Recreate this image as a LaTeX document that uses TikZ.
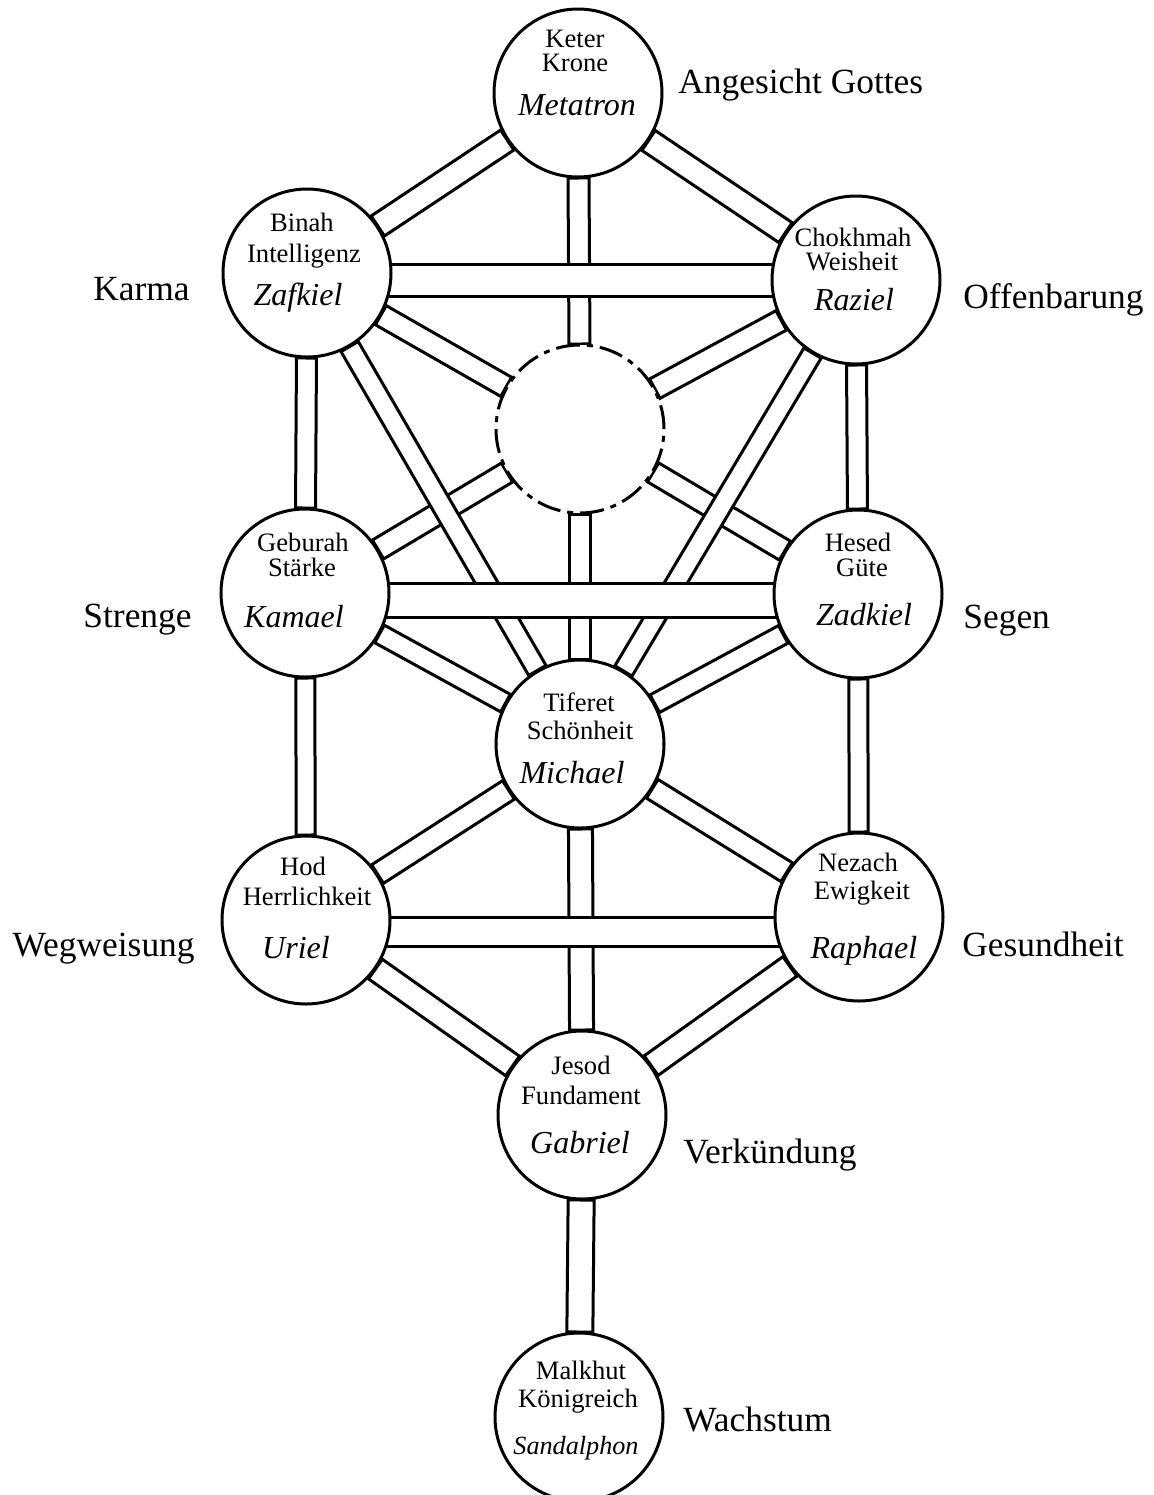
\documentclass[tikz,border=0pt]{standalone}
\usepackage{fontspec}
\setmainfont{Liberation Serif}
\usetikzlibrary{calc}
\pgfdeclarelayer{background}
\pgfsetlayers{background,main}
\tikzset{
  sef/.style={circle, draw, fill=white, line width=1.5pt, minimum size=84pt, inner sep=0pt, outer sep=0pt},
  daat/.style={sef, dash pattern=on 12pt off 3.5pt on 3pt off 3.5pt},
  chan/.style={draw, fill=white, line width=1.5pt},
  sm/.style={font=\fontsize{13.3}{15}\selectfont, anchor=mid, inner sep=0pt, yshift=-2.5pt},
  nm/.style={font=\fontsize{16}{18}\selectfont\itshape, anchor=mid, inner sep=0pt, yshift=-3pt},
  nmsmall/.style={font=\fontsize{13.1}{15}\selectfont\itshape, anchor=mid, inner sep=0pt, yshift=-2.5pt},
  lab/.style={font=\fontsize{17.7}{20}\selectfont, inner sep=0pt, yshift=-3pt},
}
\newcommand{\sefchan}[3]{%
  \path ($(#1)!42.5pt!(#2)$) coordinate (ca) ($(#2)!42.5pt!(#1)$) coordinate (cb);
  \draw[chan] ($(ca)!#3!90:(cb)$) -- ($(cb)!#3!-90:(ca)$) -- ($(cb)!#3!90:(ca)$) -- ($(ca)!#3!-90:(cb)$) -- cycle;
}
\begin{document}
\begin{tikzpicture}[x=0.5pt,y=-0.5pt]
\useasboundingbox (0,0) rectangle (1154,1495);
% sefirot
\node[sef] (K) at (578,93) {};
\node[sef] (B) at (307,273) {};
\node[sef] (C) at (856,280) {};
\node[daat] (D) at (580,429) {};
\node[sef] (G) at (305,593) {};
\node[sef] (H) at (858,594) {};
\node[sef] (T) at (580,744) {};
\node[sef] (Ho) at (306,920) {};
\node[sef] (N) at (859,917) {};
\node[sef] (J) at (582,1115) {};
\node[sef] (M) at (579,1417) {};
% channels
\begin{pgfonlayer}{background}
\sefchan{K}{B}{6pt}
\sefchan{K}{C}{6pt}
\sefchan{K}{D}{5.25pt}
\draw[chan] ([yshift=4.5pt]B.center) rectangle ([yshift=-8pt]C.center);
\sefchan{B}{D}{5.5pt}
\sefchan{C}{D}{5.5pt}
\sefchan{B}{G}{5pt}
\sefchan{C}{H}{5pt}
\sefchan{D}{G}{5.5pt}
\sefchan{D}{H}{5.5pt}
\sefchan{B}{T}{5pt}
\sefchan{C}{T}{5pt}
\sefchan{D}{T}{5.25pt}
\sefchan{G}{T}{5pt}
\sefchan{H}{T}{5pt}
\draw[chan] ([yshift=5pt]G.center) rectangle ([yshift=-11.5pt]H.center);
\sefchan{G}{Ho}{4.75pt}
\sefchan{H}{N}{4.75pt}
\sefchan{T}{Ho}{5.5pt}
\sefchan{T}{N}{5.5pt}
\sefchan{T}{J}{6pt}
\draw[chan] ([yshift=1.5pt]Ho.center) rectangle ([yshift=-14.5pt]N.center);
\sefchan{Ho}{J}{6pt}
\sefchan{N}{J}{6pt}
\sefchan{J}{M}{6.5pt}
\end{pgfonlayer}
% texts
\node[sm] (K1) at (575,38) {Keter};
\node[sm] (K2) at (575,62) {Krone};
\node[nm] (K3) at (577,105) {Metatron};
\node[sm] (B1) at (302,222) {Binah};
\node[sm] (B2) at (304,253) {Intelligenz};
\node[nm] (B3) at (298,295) {Zafkiel};
\node[sm] (C1) at (853,237) {Chokhmah};
\node[sm] (C2) at (852,261) {Weisheit};
\node[nm] (C3) at (854,300) {Raziel};
\node[sm] (G1) at (303,542) {Geburah};
\node[sm] (G2) at (302,567) {Stärke};
\node[nm] (G3) at (294,617) {Kamael};
\node[sm] (H1) at (858,542) {Hesed};
\node[sm] (H2) at (862,567) {Güte};
\node[nm] (H3) at (864,615) {Zadkiel};
\node[sm] (T1) at (579,702) {Tiferet};
\node[sm] (T2) at (580,730) {Schönheit};
\node[nm] (T3) at (572,773) {Michael};
\node[sm] (Ho1) at (303,866) {Hod};
\node[sm] (Ho2) at (307,896) {Herrlichkeit};
\node[nm] (Ho3) at (296,948) {Uriel};
\node[sm] (N1) at (858,862) {Nezach};
\node[sm] (N2) at (862,890) {Ewigkeit};
\node[nm] (N3) at (864,948) {Raphael};
\node[sm] (J1) at (581,1065) {Jesod};
\node[sm] (J2) at (581,1095) {Fundament};
\node[nm] (J3) at (580,1143) {Gabriel};
\node[sm] (M1) at (581,1370) {Malkhut};
\node[sm] (M2) at (578,1398) {Königreich};
\node[nmsmall] (M3) at (576,1445) {Sandalphon};
% outer labels
\node[lab, anchor=mid west] (lK) at (678,83) {Angesicht Gottes};
\node[lab, anchor=mid east] (lB) at (190,290) {Karma};
\node[lab, anchor=mid west] (lC) at (963,298) {Offenbarung};
\node[lab, anchor=mid east] (lG) at (192,617) {Strenge};
\node[lab, anchor=mid west] (lH) at (963,618) {Segen};
\node[lab, anchor=mid east] (lHo) at (195,946) {Wegweisung};
\node[lab, anchor=mid west] (lN) at (962,946) {Gesundheit};
\node[lab, anchor=mid west] (lJ) at (683,1153) {Verkündung};
\node[lab, anchor=mid west] (lM) at (683,1421) {Wachstum};
\end{tikzpicture}
\end{document}
